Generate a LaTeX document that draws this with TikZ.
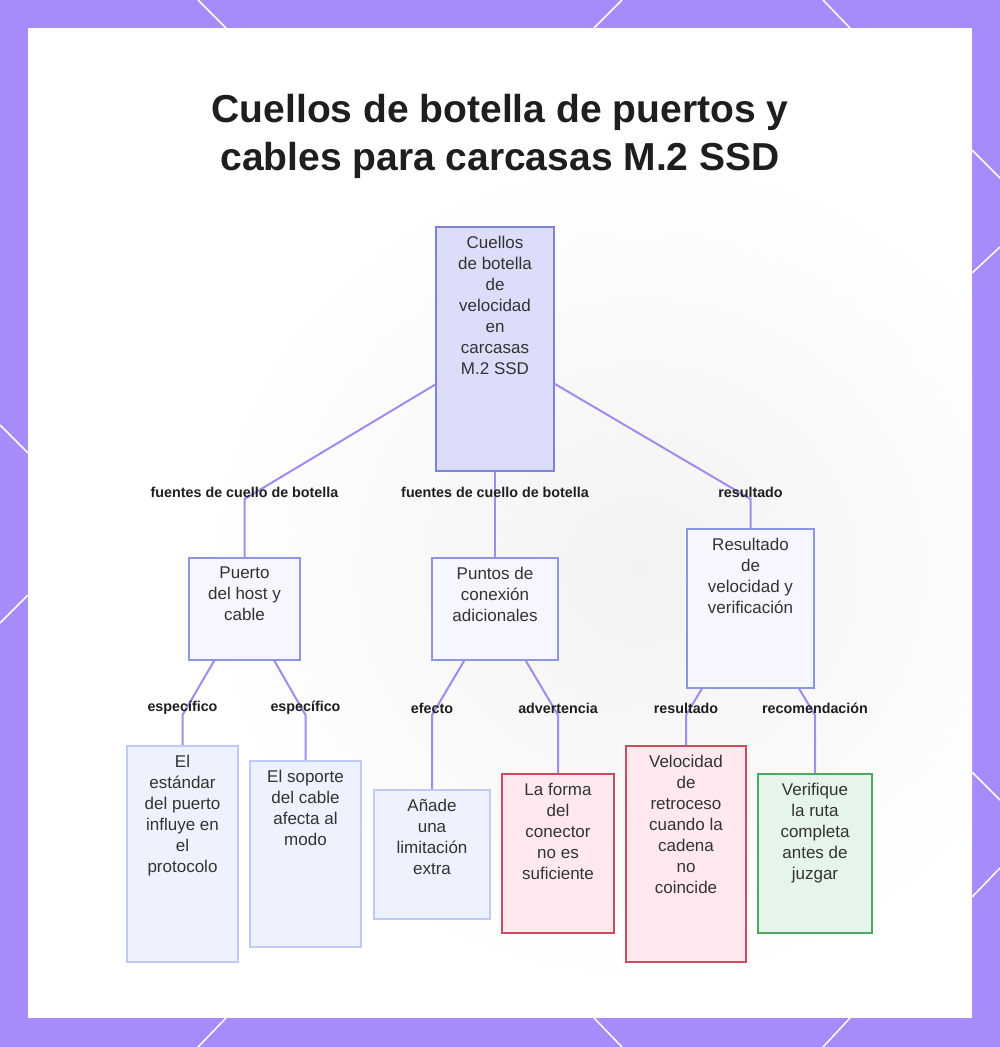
\documentclass[tikz,border=0pt]{standalone}
\usepackage{fontspec}
\setmainfont{Liberation Sans}
\usepackage{tikz}

\definecolor{framepurple}{RGB}{167,139,250}
\definecolor{linkpurple}{RGB}{165,138,238}
\definecolor{rootfill}{RGB}{220,221,250}
\definecolor{rootborder}{RGB}{125,130,215}
\definecolor{midfill}{RGB}{245,246,254}
\definecolor{midborder}{RGB}{140,150,225}
\definecolor{leaffill}{RGB}{238,242,254}
\definecolor{leafborder}{RGB}{192,202,245}
\definecolor{warnfill}{RGB}{255,233,238}
\definecolor{warnborder}{RGB}{205,75,95}
\definecolor{okfill}{RGB}{230,245,233}
\definecolor{okborder}{RGB}{75,170,95}
\definecolor{nodetext}{RGB}{51,51,51}
\definecolor{labeltext}{RGB}{30,30,30}

\begin{document}
\begin{tikzpicture}[x=1pt,y=-1pt,
  link/.style={draw=linkpurple,line width=2pt},
  elabel/.style={font=\bfseries\fontsize{14.3}{16}\selectfont,text=labeltext,yshift=7pt},
  ntext/.style={align=center,anchor=north,inner sep=0pt,yshift=-10pt,text=nodetext,font=\fontsize{17}{21}\selectfont},
  rootbox/.style={draw=rootborder,fill=rootfill,line width=1.6pt,anchor=north,inner sep=0pt},
  midbox/.style={draw=midborder,fill=midfill,line width=1.6pt,anchor=north,inner sep=0pt},
  leafbox/.style={draw=leafborder,fill=leaffill,line width=1.6pt,anchor=north,inner sep=0pt},
  warnbox/.style={draw=warnborder,fill=warnfill,line width=1.6pt,anchor=north,inner sep=0pt},
  okbox/.style={draw=okborder,fill=okfill,line width=1.6pt,anchor=north,inner sep=0pt},
  title/.style={align=center,anchor=north,inner sep=0pt,text=labeltext,font=\bfseries\fontsize{39}{48}\selectfont}]
  \useasboundingbox (0,0) rectangle (1000,1047);

  % frame and panel
  \fill[framepurple] (0,0) rectangle (1000,1047);
  \fill[white] (28,28) rectangle (972,1018);
  \begin{scope}
    \clip (28,28) rectangle (972,1018);
    \shade[inner color=gray!10,outer color=white] (640,570) ellipse (440 and 420);
  \end{scope}
  \draw[white,line width=1.5pt] (198,0)--(226,28);
  \draw[white,line width=1.5pt] (622,0)--(594,28);
  \draw[white,line width=1.5pt] (823,0)--(850,28);
  \draw[white,line width=1.5pt] (226,1018)--(198,1047);
  \draw[white,line width=1.5pt] (594,1018)--(622,1047);
  \draw[white,line width=1.5pt] (850,1018)--(823,1047);
  \draw[white,line width=1.5pt] (0,425)--(28,453);
  \draw[white,line width=1.5pt] (28,595)--(0,623);
  \draw[white,line width=1.5pt] (972,150)--(1000,178);
  \draw[white,line width=1.5pt] (972,273)--(1000,247);
  \draw[white,line width=1.5pt] (972,772)--(1000,800);
  \draw[white,line width=1.5pt] (972,897)--(1000,868);

  \node[title] (title) at (500,93.6) {Cuellos de botella de puertos y\\cables para carcasas M.2 SSD};

  % boxes
  \node[rootbox,minimum width=118,minimum height=244,
    label={[ntext]north:Cuellos\\de botella\\de\\velocidad\\en\\carcasas\\M.2 SSD}] (root) at (495,226) {};
  \node[midbox,minimum width=111,minimum height=102,
    label={[ntext]north:Puerto\\del host y\\cable}] (puerto) at (244.5,557) {};
  \node[midbox,minimum width=126,minimum height=102,
    label={[ntext]north:Puntos de\\conexión\\adicionales}] (puntos) at (495,557) {};
  \node[midbox,minimum width=127,minimum height=159,
    label={[ntext]north:Resultado\\de\\velocidad y\\verificación}] (resultado) at (750.5,528) {};
  \node[leafbox,minimum width=111,minimum height=216,
    label={[ntext]north:El\\estándar\\del puerto\\influye en\\el\\protocolo}] (estandar) at (182.5,745) {};
  \node[leafbox,minimum width=111,minimum height=186,
    label={[ntext]north:El soporte\\del cable\\afecta al\\modo}] (soporte) at (305.5,760) {};
  \node[leafbox,minimum width=116,minimum height=129,
    label={[ntext]north:Añade\\una\\limitación\\extra}] (anade) at (432,789) {};
  \node[warnbox,minimum width=112,minimum height=159,
    label={[ntext]north:La forma\\del\\conector\\no es\\suficiente}] (forma) at (558,773) {};
  \node[warnbox,minimum width=120,minimum height=216,
    label={[ntext]north:Velocidad\\de\\retroceso\\cuando la\\cadena\\no\\coincide}] (retroceso) at (686,745) {};
  \node[okbox,minimum width=114,minimum height=159,
    label={[ntext]north:Verifique\\la ruta\\completa\\antes de\\juzgar}] (verifique) at (815,773) {};

  % bends
  \coordinate (b1) at (244.5,499);
  \coordinate (b2) at (495,499);
  \coordinate (b3) at (750.5,499);
  \coordinate (b4) at (182.5,715);
  \coordinate (b5) at (305.5,715);
  \coordinate (b6) at (432,715);
  \coordinate (b7) at (558,715);
  \coordinate (b8) at (686,715);
  \coordinate (b9) at (815,715);

  % links
  \draw[link] (root) -- (b1) node[elabel]{fuentes de cuello de botella} -- (puerto);
  \draw[link] (root) -- (b2) node[elabel]{fuentes de cuello de botella} -- (puntos);
  \draw[link] (root) -- (b3) node[elabel]{resultado} -- (resultado);
  \draw[link] (puerto) -- (b4) node[elabel]{específico} -- (estandar);
  \draw[link] (puerto) -- (b5) node[elabel]{específico} -- (soporte);
  \draw[link] (puntos) -- (b6) node[elabel]{efecto} -- (anade);
  \draw[link] (puntos) -- (b7) node[elabel]{advertencia} -- (forma);
  \draw[link] (resultado) -- (b8) node[elabel]{resultado} -- (retroceso);
  \draw[link] (resultado) -- (b9) node[elabel]{recomendación} -- (verifique);
\end{tikzpicture}
\end{document}
